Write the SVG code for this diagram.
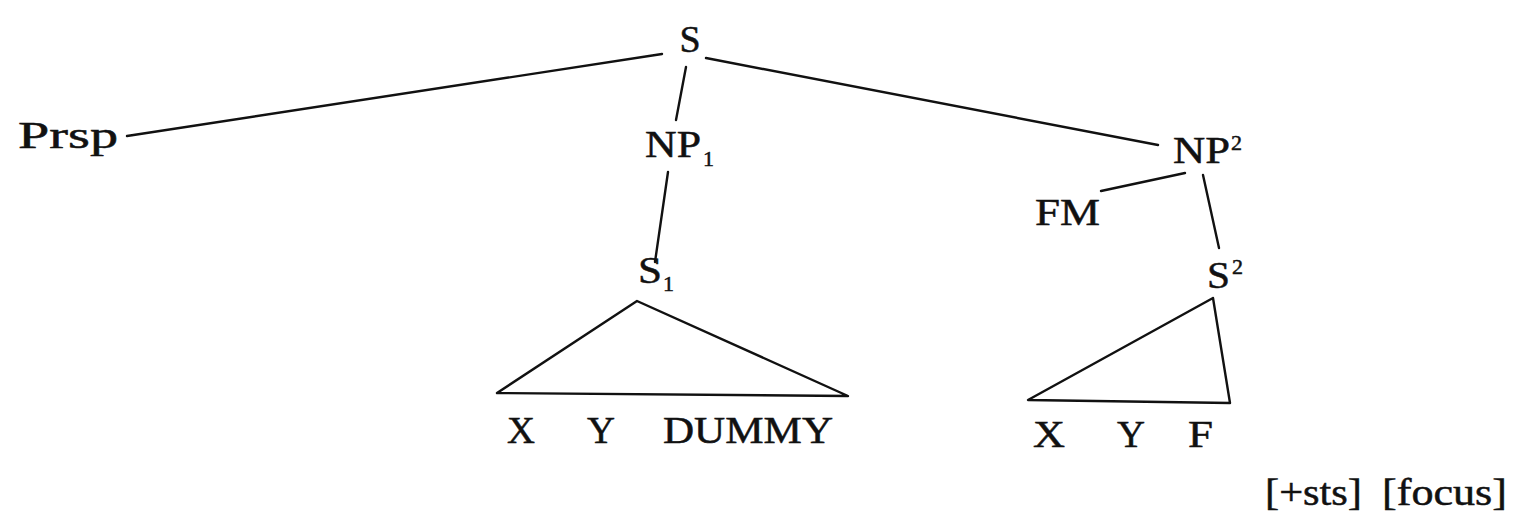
<svg xmlns="http://www.w3.org/2000/svg" width="1531" height="513" viewBox="0 0 1531 513">
<style>
.t{font-family:"Liberation Serif","Times New Roman",serif;font-size:38px;fill:#111;stroke:#111;stroke-width:0.5}
.s{font-family:"Liberation Serif","Times New Roman",serif;font-size:22px;fill:#111;stroke:#111;stroke-width:0.5}
.e{stroke:#111;stroke-width:2.4;fill:none;stroke-linecap:round;stroke-linejoin:round}
</style>
<rect width="1531" height="513" fill="#fff"/>
<g id="connectors">
<line class="e" x1="662" y1="54" x2="127" y2="136"/>
<line class="e" x1="706" y1="58" x2="1158" y2="145"/>
<line class="e" x1="686" y1="67" x2="676" y2="120"/>
<line class="e" x1="668" y1="172" x2="655" y2="262"/>
<line class="e" x1="1185" y1="173" x2="1101" y2="191"/>
<line class="e" x1="1203" y1="175" x2="1219" y2="248"/>
<polygon class="e" points="637,301 497,393 848,396"/>
<polygon class="e" points="1213,298 1028,400 1230,403"/>
</g>
<g id="node-S"><text class="t" x="690" y="52" text-anchor="middle">S</text></g>
<g id="node-Prsp"><text class="t" x="18" y="148" textLength="100" lengthAdjust="spacingAndGlyphs">Prsp</text></g>
<g id="node-NP1"><text class="t" x="645" y="157" textLength="56" lengthAdjust="spacingAndGlyphs">NP</text><text class="s" x="703" y="166">1</text></g>
<g id="node-S1"><text class="t" x="638" y="283" textLength="24" lengthAdjust="spacingAndGlyphs">S</text><text class="s" x="663" y="291">1</text></g>
<g id="node-NP2"><text class="t" x="1173" y="163" textLength="57" lengthAdjust="spacingAndGlyphs">NP</text><text class="s" x="1231" y="150">2</text></g>
<g id="node-FM"><text class="t" x="1035" y="225" textLength="65" lengthAdjust="spacingAndGlyphs">FM</text></g>
<g id="node-S2"><text class="t" x="1207" y="288" textLength="23" lengthAdjust="spacingAndGlyphs">S</text><text class="s" x="1232" y="274">2</text></g>
<g id="node-XYDUMMY">
<text class="t" x="507" y="443" textLength="28" lengthAdjust="spacingAndGlyphs">X</text>
<text class="t" x="587" y="443" textLength="28" lengthAdjust="spacingAndGlyphs">Y</text>
<text class="t" x="663" y="443" textLength="170" lengthAdjust="spacingAndGlyphs">DUMMY</text>
</g>
<g id="node-XYF">
<text class="t" x="1033" y="447" textLength="32" lengthAdjust="spacingAndGlyphs">X</text>
<text class="t" x="1117" y="447" textLength="28" lengthAdjust="spacingAndGlyphs">Y</text>
<text class="t" x="1188" y="447" textLength="25" lengthAdjust="spacingAndGlyphs">F</text>
</g>
<g id="features">
<text class="t" x="1265" y="505" textLength="97" lengthAdjust="spacingAndGlyphs">[+sts]</text>
<text class="t" x="1382" y="505" textLength="125" lengthAdjust="spacingAndGlyphs">[focus]</text>
</g>
</svg>
